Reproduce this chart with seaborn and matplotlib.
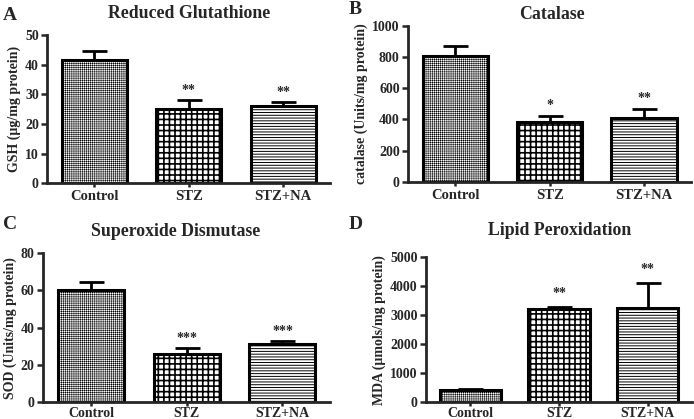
import matplotlib
matplotlib.use("Agg")
import matplotlib.pyplot as plt
import numpy as np
import pandas as pd
import seaborn as sns

groups = ["Control", "STZ", "STZ+NA"]

gsh_mean = [41.5, 25.0, 26.0]
gsh_sem = [3.0, 3.0, 1.5]
cat_mean = [805, 385, 408]
cat_sem = [65, 40, 62]
sod_mean = [60.0, 26.0, 31.0]
sod_sem = [4.5, 3.0, 2.0]
mda_mean = [420, 3200, 3250]
mda_sem = [40, 70, 850]

gsh_stars = ["", "**", "**"]
cat_stars = ["", "*", "**"]
sod_stars = ["", "***", "***"]
mda_stars = ["", "**", "**"]

sns.set_style("ticks")
plt.rcParams["font.family"] = ["Liberation Serif", "DejaVu Serif"]
plt.rcParams["font.weight"] = "bold"
plt.rcParams["hatch.color"] = "black"

# fine grey texture / checkerboard-ish grid / horizontal stripes
hatches = ["++++++++", "+++", "------"]
hatch_lw = [0.35, 1.2, 0.7]

panels = [
    # letter, title, ylabel, mean, sem, stars, ylim, yticks, axes rect, title x/y, letter x/y, star offset
    ("A", "Reduced Glutathione", "GSH (\u00b5g/mg protein)", gsh_mean, gsh_sem, gsh_stars,
     50, np.arange(0, 51, 10), [0.068, 0.563, 0.408, 0.353], (0.272, 0.967), (0.004, 0.964), 1.0),
    ("B", "Catalase", "catalase (Units/mg protein)", cat_mean, cat_sem, cat_stars,
     1000, np.arange(0, 1001, 200), [0.588, 0.566, 0.408, 0.372], (0.795, 0.965), (0.502, 0.978), 25),
    ("C", "Superoxide Dismutase", "SOD (Units/mg protein)", sod_mean, sod_sem, sod_stars,
     80, np.arange(0, 81, 20), [0.062, 0.040, 0.414, 0.356], (0.253, 0.448), (0.004, 0.465), 1.5),
    ("D", "Lipid Peroxidation", "MDA (\u00b5mols/mg protein)", mda_mean, mda_sem, mda_stars,
     5000, np.arange(0, 5001, 1000), [0.614, 0.040, 0.383, 0.346], (0.806, 0.45), (0.502, 0.465), 250),
]

fig = plt.figure(figsize=(6.94, 4.19), dpi=100)

for letter, title, ylabel, mean, sem, stars, ymax, yticks, rect, tpos, lpos, off in panels:
    ax = fig.add_axes(rect)
    df = pd.DataFrame({"group": groups, "value": mean})
    sns.barplot(data=df, x="group", y="value", color="white", width=0.69,
                edgecolor="black", linewidth=2.2, errorbar=None, ax=ax)
    for patch, h, hlw in zip(ax.patches, hatches, hatch_lw):
        patch.set_hatch(h)
        try:
            patch.set_hatch_linewidth(hlw)
        except AttributeError:
            pass
    x = np.arange(len(groups))
    ax.errorbar(x, mean, yerr=[np.zeros(len(sem)), sem], fmt="none", ecolor="black",
                elinewidth=2, capsize=9, capthick=2, zorder=1)
    for xi, m, s, st in zip(x, mean, sem, stars):
        if st:
            ax.text(xi, m + s + off, st, ha="center", va="bottom", fontsize=10, fontweight="bold")
    ax.set_xlim(-0.5, 2.5)
    ax.set_ylim(0, ymax)
    ax.set_yticks(yticks)
    ax.set_xlabel("")
    ax.set_ylabel(ylabel, fontsize=10, fontweight="bold", labelpad=3)
    ax.tick_params(axis="y", width=1.8, length=4, labelsize=10, pad=2)
    bottom_row = rect[1] < 0.5
    ax.tick_params(axis="x", width=1.8, length=3, labelsize=10 if bottom_row else 10.5,
                   pad=0.5 if bottom_row else 2)
    for lab in ax.get_xticklabels() + ax.get_yticklabels():
        lab.set_fontweight("bold")
    for side in ["left", "bottom"]:
        ax.spines[side].set_linewidth(2)
    sns.despine(ax=ax)
    fig.text(tpos[0], tpos[1], title, ha="center", va="center", fontsize=12.8, fontweight="bold")
    fig.text(lpos[0], lpos[1], letter, ha="left", va="center", fontsize=14, fontweight="bold")

fig.savefig("out.png", dpi=100)
